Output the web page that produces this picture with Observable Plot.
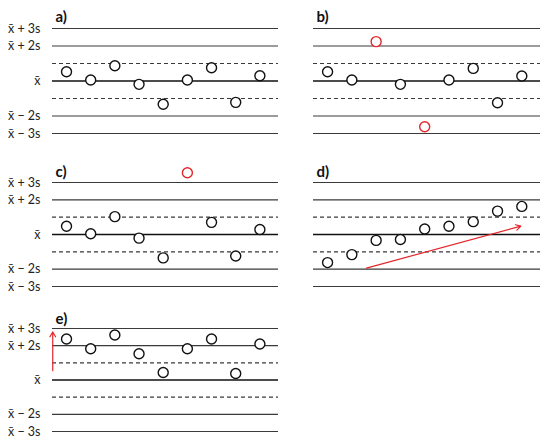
<!DOCTYPE html>
<html>
<head>
<meta charset="utf-8">
<script src="https://cdn.jsdelivr.net/npm/d3@7"></script>
<script src="https://cdn.jsdelivr.net/npm/@observablehq/plot@0.6"></script>
<style>
  html, body { margin: 0; padding: 0; background: white; }
  #wrap { position: relative; width: 540px; height: 448px; overflow: hidden; font-family: Lato, "Open Sans", sans-serif; }
  .panel { position: absolute; }
</style>
</head>
<body>
<div id="wrap"></div>
<script>
// ---- data (values in units of s, relative to the mean) ----
const index = [0, 1, 2, 3, 4, 5, 6, 7, 8];
const valuesA = [0.53, 0.06, 0.87, -0.19, -1.33, 0.06, 0.76, -1.22, 0.30];
const valuesB = [0.53, 0.06, 2.25, -0.19, -2.61, 0.06, 0.72, -1.24, 0.29];
const redB = [2, 4];
const valuesC = [0.48, 0.04, 1.03, -0.21, -1.35, 3.56, 0.70, -1.24, 0.29];
const redC = [5];
const valuesD = [-1.62, -1.16, -0.34, -0.29, 0.32, 0.48, 0.74, 1.35, 1.62];
const arrowD = {x1: 1.6, y1: -1.94, x2: 7.96, y2: 0.48};
const valuesE = [2.39, 1.82, 2.62, 1.53, 0.44, 1.82, 2.39, 0.38, 2.10];
const arrowE = {x1: -0.57, y1: 0.54, x2: -0.57, y2: 2.8};

const solidLevels = [3, 2, -2, -3];
const dashedLevels = [1, -1];
const centerLevel = [0];
const tickLevels = [3, 2, 0, -2, -3];
const tickLabels = ["x̄ + 3s", "x̄ + 2s", "x̄", "x̄ − 2s", "x̄ − 3s"];
const panelLabels = ["a)", "b)", "c)", "d)", "e)"];

const RED = "#e3262b";

function panel({label, values, reds = [], arrow = null, showAxis, left, top, width, height, marginTop, marginBottom, marginLeft, marginRight, labelDy}) {
  const pts = index.map((i) => ({i, v: values[i], red: reds.includes(i)}));
  const marks = [
    Plot.ruleY(solidLevels, {stroke: "#3a3a3a", strokeWidth: 1.2}),
    Plot.ruleY(dashedLevels, {stroke: "#3a3a3a", strokeWidth: 1.1, strokeDasharray: "4,3"}),
    Plot.ruleY(centerLevel, {stroke: "#111", strokeWidth: 1.5})
  ];
  if (arrow) {
    marks.push(Plot.arrow([arrow], {x1: "x1", y1: "y1", x2: "x2", y2: "y2", stroke: RED, strokeWidth: 1.2, headLength: 7}));
  }
  marks.push(
    Plot.dot(pts.filter((d) => !d.red), {x: "i", y: "v", r: 5, stroke: "#111", strokeWidth: 1.4, fill: "white"}),
    Plot.dot(pts.filter((d) => d.red), {x: "i", y: "v", r: 5, stroke: RED, strokeWidth: 1.4, fill: "white"}),
    Plot.text([label], {frameAnchor: "top-left", lineAnchor: "middle", dx: 3, dy: labelDy, fontWeight: "bold", fontSize: 15, fill: "#111"})
  );
  const chart = Plot.plot({
    width, height, marginTop, marginBottom, marginLeft, marginRight,
    x: {domain: [-0.58, 8.77], axis: null},
    y: {
      domain: [-3, 3],
      axis: showAxis ? "left" : null,
      ticks: tickLevels,
      tickFormat: (d) => tickLabels[tickLevels.indexOf(d)],
      tickSize: 0,
      tickPadding: 12,
      label: null
    },
    style: {fontFamily: "Lato, 'Open Sans', sans-serif", fontSize: "12.5px", color: "#222", background: "transparent", overflow: "visible"},
    marks
  });
  const div = document.createElement("div");
  div.className = "panel";
  div.style.left = left + "px";
  div.style.top = top + "px";
  div.appendChild(chart);
  document.getElementById("wrap").appendChild(div);
}

const L = {left: 0, width: 280, marginLeft: 52, marginRight: 2, showAxis: true};
const R = {left: 270, width: 270, marginLeft: 43, marginRight: 0, showAxis: false};

panel({...L, label: panelLabels[0], values: valuesA, top: 0, height: 150, marginTop: 28, marginBottom: 17, labelDy: -11});
panel({...R, label: panelLabels[1], values: valuesB, reds: redB, top: 0, height: 150, marginTop: 28, marginBottom: 17, labelDy: -11});
panel({...L, label: panelLabels[2], values: valuesC, reds: redC, top: 153, height: 150, marginTop: 29, marginBottom: 17, labelDy: -10});
panel({...R, label: panelLabels[3], values: valuesD, arrow: arrowD, top: 153, height: 150, marginTop: 29, marginBottom: 17, labelDy: -10});
panel({...L, label: panelLabels[4], values: valuesE, arrow: arrowE, top: 303, height: 145, marginTop: 25, marginBottom: 17, labelDy: -9});
</script>
</body>
</html>
